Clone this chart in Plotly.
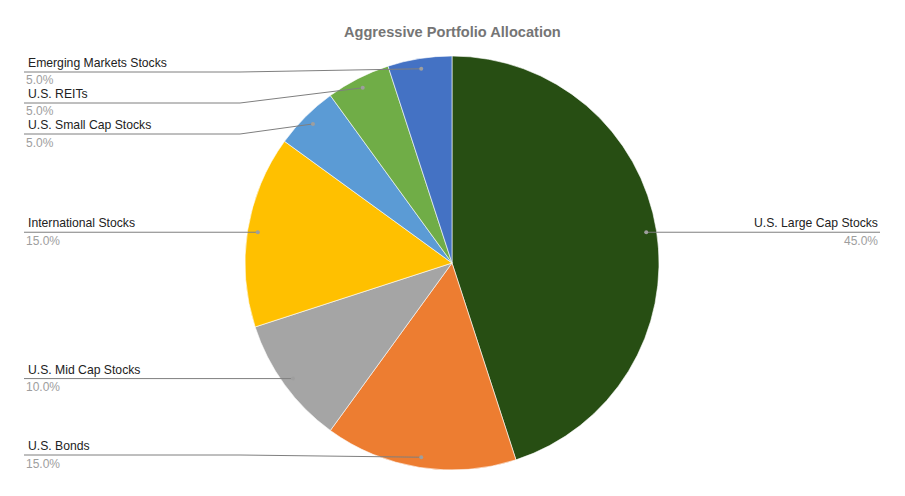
import math
import plotly.graph_objects as go

# data
labels = ['U.S. Large Cap Stocks', 'U.S. Bonds', 'U.S. Mid Cap Stocks', 'International Stocks',
          'U.S. Small Cap Stocks', 'U.S. REITs', 'Emerging Markets Stocks']
values = [45, 15, 10, 15, 5, 5, 5]
colors = ['#274e13', '#ed7d31', '#a5a5a5', '#ffc000', '#5b9bd5', '#70ad47', '#4472c4']
title = 'Aggressive Portfolio Allocation'

# page is 905x496, body margin 8px
OFF = 8
W, H = 905 - 2 * OFF, 496 - 2 * OFF
cx, cy, R = 452, 263, 207
FONT = 'Liberation Sans, Arial, sans-serif'

def px(x):
    return (x - OFF) / W

def py(y):
    return 1 - (y - OFF) / H

fig = go.Figure(go.Pie(
    labels=labels, values=values, sort=False, direction='clockwise', rotation=0,
    marker=dict(colors=colors, line=dict(color='white', width=0.6)),
    textinfo='none', hoverinfo='label+percent', showlegend=False,
    domain=dict(x=[px(cx - R), px(cx + R)], y=[py(cy + R), py(cy - R)]),
))

# leader lines + labels (google sheets style)
total = sum(values)
dots = []
cum = 0
for lab, v in zip(labels, values):
    mid = (cum + v / 2) / total * 2 * math.pi
    cum += v
    dx = cx + 0.95 * R * math.sin(mid)
    dy = cy - 0.95 * R * math.cos(mid)
    dots.append((lab, v, dx, dy))

top, bottom, gap = 72, 455, 31
shapes, annos = [], []
for side in ('left', 'right'):
    items = sorted([d for d in dots if (d[2] < cx) == (side == 'left')], key=lambda d: d[3])
    ys = []
    for d in items:
        y = max(d[3], top, (ys[-1] + gap) if ys else top)
        ys.append(y)
    for i in range(len(ys) - 1, -1, -1):
        lim = bottom if i == len(ys) - 1 else ys[i + 1] - gap
        ys[i] = min(ys[i], lim)
    for (lab, v, dx, dy), ly in zip(items, ys):
        if side == 'left':
            x_end, elbow, anchor = 24, min(240, dx), 'left'
        else:
            x_end, elbow, anchor = 880, max(664, dx), 'right'
        path = f'M {px(x_end)},{py(ly)} L {px(elbow)},{py(ly)} L {px(dx)},{py(dy)}'
        shapes.append(dict(type='path', path=path, xref='paper', yref='paper',
                           line=dict(color='#7f7f7f', width=1)))
        shapes.append(dict(type='circle', xref='paper', yref='paper',
                           x0=px(dx - 2), x1=px(dx + 2), y0=py(dy + 2), y1=py(dy - 2),
                           fillcolor='#9e9e9e', line=dict(width=0)))
        tx = x_end + (2 if side == 'left' else 0)
        annos.append(dict(x=px(tx), y=py(ly - 9), xref='paper', yref='paper', text=lab,
                          showarrow=False, xanchor=anchor, yanchor='middle',
                          font=dict(family=FONT, size=12.2, color='#222222')))
        annos.append(dict(x=px(x_end), y=py(ly + 8.5), xref='paper', yref='paper', text=f'{v:.1f}%',
                          showarrow=False, xanchor=anchor, yanchor='middle',
                          font=dict(family=FONT, size=12, color='#9e9e9e')))

annos.append(dict(x=px(cx), y=py(32), xref='paper', yref='paper', text=f'<b>{title}</b>',
                  showarrow=False, xanchor='center', yanchor='middle',
                  font=dict(family=FONT, size=14.6, color='#757575')))

fig.update_layout(
    width=W, height=H,
    margin=dict(l=0, r=0, t=0, b=0),
    paper_bgcolor='white', plot_bgcolor='white',
    shapes=shapes, annotations=annos,
)

fig.write_html('out.html')
